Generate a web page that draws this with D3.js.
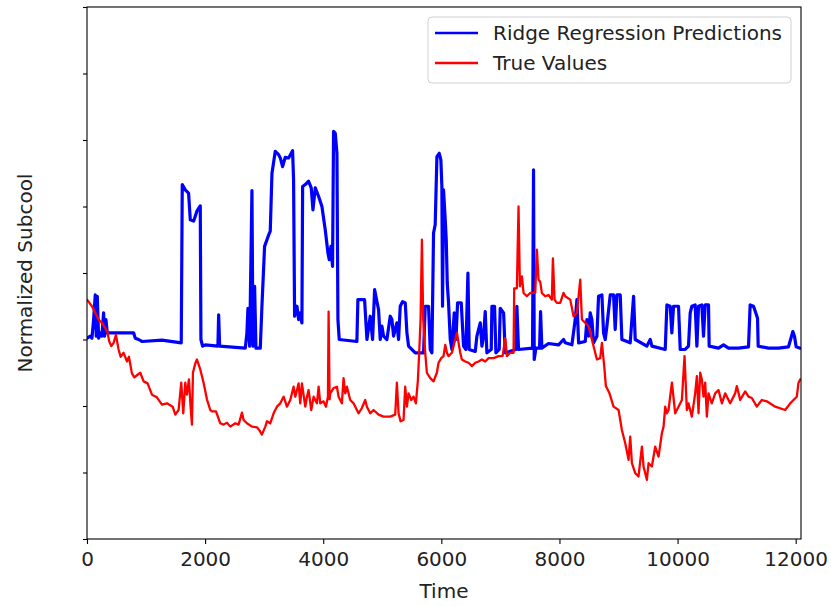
<!DOCTYPE html>
<html>
<head>
<meta charset="utf-8">
<script src="https://cdn.jsdelivr.net/npm/d3@7"></script>
<style>
  html, body { margin: 0; padding: 0; background: #fff; }
  svg { display: block; font-family: "DejaVu Sans", sans-serif; }
</style>
</head>
<body>
<svg id="chart" width="831" height="606"></svg>
<script>
// ---------- data ----------
const xTickValues = [0, 2000, 4000, 6000, 8000, 10000, 12000];
const yTickValues = [0, 1, 2, 3, 4, 5, 6, 7, 8];
const seriesNames = ["Ridge Regression Predictions", "True Values"];
const seriesColors = ["#0000ff", "#ff0000"];

const predTime = [0,56,84,112,140,157,174,197,225,253,281,298,321,343,366,535,789,818,874,930,1269,1596,1613,1664,1720,1749,1805,1861,1918,1929,1957,2003,2217,2229,2246,2680,2708,2725,2754,2793,2810,2838,2861,2934,2962,3007,3075,3103,3132,3188,3244,3273,3312,3357,3414,3481,3498,3515,3555,3583,3611,3639,3651,3696,3752,3797,3826,3865,3922,3978,4034,4080,4102,4130,4158,4175,4204,4232,4249,4271,4570,4587,4700,4740,4796,4836,4870,4909,4937,4965,4994,5022,5078,5135,5163,5191,5247,5276,5304,5343,5389,5417,5445,5558,5699,5727,5783,5812,5840,5868,5896,5925,5964,5992,6009,6020,6037,6066,6083,6100,6122,6151,6179,6218,6247,6275,6337,6376,6416,6450,6472,6574,6602,6630,6659,6687,6715,6743,6771,6845,6856,6901,6924,6980,6997,7054,7082,7262,7279,7307,7544,7561,7573,7601,7663,7680,7702,7815,7985,8069,8098,8211,8267,8296,8324,8437,8465,8493,8521,8549,8578,8634,8662,8719,8747,8775,8803,8860,8916,8944,8973,9029,9057,9198,9255,9283,9480,9537,9565,9791,9819,9875,9903,9932,10016,10045,10129,10185,10214,10242,10298,10327,10355,10411,10439,10468,10524,10535,10693,10778,10863,11032,11201,11229,11286,11325,11354,11365,11540,11709,11878,11952,11980,12008,12076];
const predValues = [3.02,3.05,3.02,3.30,3.67,3.05,3.65,3.02,3.10,3.05,3.40,3.05,3.30,3.10,3.10,3.10,3.10,3.02,3.00,2.97,2.99,2.95,5.33,5.25,5.20,4.80,4.78,4.93,5.01,3.00,2.90,2.92,2.90,3.37,2.90,2.87,3.10,3.47,2.90,5.24,2.90,3.80,2.87,2.87,3.50,4.40,4.57,4.63,5.50,5.83,5.78,5.73,5.60,5.74,5.73,5.84,5.40,3.35,3.50,3.30,3.40,3.25,5.30,5.33,5.38,5.28,4.95,5.28,5.15,5.00,4.65,4.30,4.20,4.40,4.10,6.13,6.10,5.80,3.30,3.00,2.97,3.60,3.60,3.00,3.35,3.00,3.75,3.57,3.45,3.00,3.20,3.05,3.00,3.35,3.30,3.05,3.25,3.00,3.50,3.57,3.55,3.10,2.90,2.80,2.80,3.50,3.50,2.85,2.80,4.60,4.73,5.75,5.80,5.70,5.30,3.50,5.25,4.80,4.50,3.85,3.55,3.00,2.85,3.40,3.00,3.55,3.55,2.90,2.85,4.00,2.85,2.82,3.05,3.15,3.25,2.90,3.05,3.42,2.80,2.85,3.50,3.50,2.80,2.85,3.47,3.40,2.80,2.85,3.50,2.85,2.87,5.55,2.70,2.87,2.87,3.42,2.87,2.94,2.92,3.00,2.95,2.92,3.30,3.60,2.95,2.97,3.30,3.05,3.40,3.30,2.95,3.05,3.65,3.67,3.10,3.00,3.20,3.67,3.67,3.15,3.67,3.67,3.00,2.95,3.65,3.00,2.90,3.00,2.90,2.85,3.52,3.50,3.10,3.50,3.50,2.85,2.85,2.90,3.40,3.50,3.52,2.90,3.50,3.52,3.05,3.52,3.52,2.90,2.87,2.92,2.87,2.87,2.89,3.52,3.50,3.40,3.32,2.90,2.87,2.87,2.89,3.12,3.05,2.89,2.87];

const trueTime = [0,84,140,197,253,310,349,377,411,451,490,535,569,620,676,710,761,801,857,902,959,1026,1100,1184,1269,1354,1450,1495,1551,1596,1630,1664,1692,1726,1754,1777,1794,1833,1861,1918,1974,2031,2087,2116,2184,2257,2313,2370,2426,2511,2567,2624,2652,2708,2793,2878,2923,2962,3019,3047,3103,3160,3216,3273,3329,3357,3385,3442,3498,3527,3583,3611,3639,3696,3724,3752,3797,3837,3893,3922,3950,4006,4046,4080,4091,4108,4119,4175,4232,4260,4316,4344,4373,4401,4457,4514,4570,4598,4655,4711,4739,4796,4852,4937,5022,5134,5219,5247,5276,5309,5360,5388,5417,5445,5490,5530,5569,5603,5625,5648,5671,5693,5727,5755,5812,5868,5924,5953,5998,6037,6066,6094,6122,6179,6235,6264,6292,6320,6348,6405,6461,6517,6574,6630,6687,6743,6800,6884,6969,7037,7082,7110,7166,7223,7234,7279,7307,7330,7364,7392,7448,7505,7590,7618,7646,7674,7702,7759,7815,7871,7889,7917,7956,8013,8069,8098,8183,8239,8296,8352,8380,8437,8493,8549,8634,8690,8719,8758,8786,8843,8916,9001,9057,9114,9170,9198,9227,9283,9339,9396,9424,9480,9509,9565,9621,9678,9734,9763,9791,9819,9847,9904,9960,10016,10073,10118,10157,10185,10242,10298,10327,10355,10383,10411,10439,10468,10496,10524,10580,10637,10693,10750,10806,10891,10975,11004,11060,11145,11201,11258,11342,11427,11511,11653,11822,11907,11963,12019,12048,12076];
const trueValues = [3.60,3.50,3.40,3.30,3.25,3.17,3.10,2.97,2.90,2.95,3.07,2.85,2.74,2.80,2.67,2.74,2.49,2.43,2.47,2.50,2.37,2.34,2.17,2.13,2.02,2.04,1.99,1.87,1.94,2.35,1.89,2.35,2.17,2.40,1.99,1.72,2.50,2.64,2.70,2.55,2.35,2.10,1.94,1.92,1.92,1.74,1.72,1.75,1.69,1.74,1.72,1.90,1.79,1.74,1.69,1.68,1.63,1.57,1.69,1.77,1.74,1.89,1.99,2.04,2.14,2.07,1.99,2.09,2.29,2.14,2.34,2.04,2.34,1.99,2.14,2.24,1.94,2.14,2.04,2.29,2.04,2.07,1.99,2.14,3.42,2.10,2.19,2.27,2.29,2.14,2.04,2.42,2.19,2.29,2.09,2.04,1.94,1.89,1.97,2.09,1.99,1.89,1.94,1.87,1.84,1.84,1.87,2.35,1.89,1.77,1.79,2.29,1.99,2.19,2.09,2.14,2.04,2.39,2.80,3.30,4.50,3.30,2.80,2.50,2.42,2.37,2.50,2.65,2.72,2.75,2.92,2.80,2.75,2.80,3.00,3.10,2.95,2.80,2.70,2.67,2.65,2.60,2.65,2.67,2.70,2.67,2.72,2.72,2.75,2.75,3.02,2.75,2.80,2.80,3.77,3.77,5.00,3.80,3.95,3.70,3.65,3.70,3.70,4.35,3.90,3.87,3.70,3.65,3.67,3.60,4.22,3.60,3.55,3.55,3.70,3.65,3.60,3.35,3.40,3.90,3.30,3.25,3.20,3.00,2.70,2.72,2.95,2.60,2.30,2.20,1.99,1.94,1.64,1.44,1.19,1.54,1.14,0.99,0.94,1.39,1.09,0.89,1.14,1.09,1.39,1.24,1.59,1.69,1.99,1.89,1.94,2.35,1.89,1.99,2.09,2.75,1.94,2.04,1.84,2.19,2.45,1.89,2.50,2.40,2.14,2.35,1.84,2.19,2.04,2.19,2.24,2.04,2.19,2.04,2.19,2.30,2.09,2.22,2.14,2.12,1.99,2.09,2.07,1.99,1.94,2.04,2.09,2.14,2.35,2.40];

// ---------- layout ----------
const plot = { left: 87, right: 801, top: 7, bottom: 539 };
const fontSize = 20;
const svg = d3.select("#chart");

const x = d3.scaleLinear().domain([0, 12090]).range([plot.left, plot.right]);
const y = d3.scaleLinear().domain([0, 8]).range([plot.bottom, plot.top]);

svg.append("defs").append("clipPath").attr("id", "clip")
  .append("rect")
  .attr("x", plot.left).attr("y", plot.top)
  .attr("width", plot.right - plot.left).attr("height", plot.bottom - plot.top);

const line = d3.line().x(d => x(d[0])).y(d => y(d[1]));

const predData = predTime.map((t, i) => [t, predValues[i]]);
const trueData = trueTime.map((t, i) => [t, trueValues[i]]);

const g = svg.append("g").attr("clip-path", "url(#clip)");
g.append("path").datum(predData)
  .attr("d", line).attr("fill", "none")
  .attr("stroke", seriesColors[0]).attr("stroke-width", 3.2)
  .attr("stroke-linejoin", "round").attr("stroke-linecap", "round");
g.append("path").datum(trueData)
  .attr("d", line).attr("fill", "none")
  .attr("stroke", seriesColors[1]).attr("stroke-width", 2.3)
  .attr("stroke-linejoin", "round").attr("stroke-linecap", "round");

// axes
const xAxis = d3.axisBottom(x).tickValues(xTickValues).tickSize(5).tickPadding(8)
  .tickFormat(d3.format("d"));
const xg = svg.append("g").attr("transform", `translate(0,${plot.bottom})`).call(xAxis);
xg.select(".domain").remove();
xg.selectAll("line").attr("stroke", "#000").attr("stroke-width", 1.1);
xg.selectAll("text").attr("font-size", fontSize).attr("fill", "#222")
  .attr("font-family", "DejaVu Sans");

const yAxis = d3.axisLeft(y).tickValues(yTickValues).tickSize(4).tickFormat("");
const yg = svg.append("g").attr("transform", `translate(${plot.left},0)`).call(yAxis);
yg.select(".domain").remove();
yg.selectAll("line").attr("stroke", "#000").attr("stroke-width", 1.1);

// frame
svg.append("rect")
  .attr("x", plot.left).attr("y", plot.top)
  .attr("width", plot.right - plot.left).attr("height", plot.bottom - plot.top)
  .attr("fill", "none").attr("stroke", "#000").attr("stroke-width", 1.1);

// axis labels
svg.append("text").attr("x", (plot.left + plot.right) / 2).attr("y", 598)
  .attr("text-anchor", "middle").attr("font-size", fontSize).attr("fill", "#222")
  .text("Time");
svg.append("text")
  .attr("transform", `translate(32,${(plot.top + plot.bottom) / 2}) rotate(-90)`)
  .attr("text-anchor", "middle").attr("font-size", fontSize).attr("fill", "#222")
  .text("Normalized Subcool");

// legend
const leg = svg.append("g");
leg.append("rect").attr("x", 428).attr("y", 17).attr("width", 363).attr("height", 66)
  .attr("rx", 4).attr("fill", "#fff").attr("fill-opacity", 0.8)
  .attr("stroke", "#d0d0d0").attr("stroke-width", 1);
seriesNames.forEach((name, i) => {
  const cy = 33 + i * 30;
  leg.append("line").attr("x1", 435).attr("x2", 478).attr("y1", cy).attr("y2", cy)
    .attr("stroke", seriesColors[i]).attr("stroke-width", 2.6);
  leg.append("text").attr("x", 493).attr("y", cy + 7)
    .attr("font-size", fontSize).attr("fill", "#222").text(name);
});
</script>
</body>
</html>
